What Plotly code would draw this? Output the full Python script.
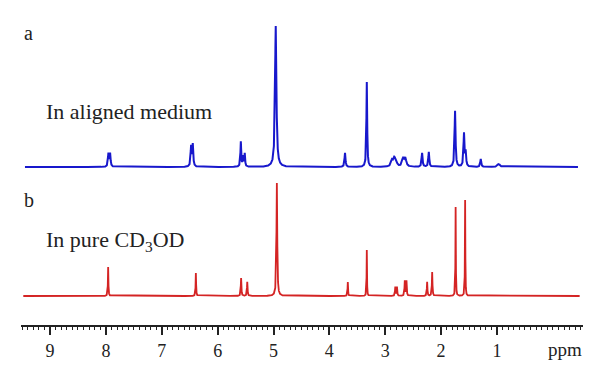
import numpy as np
import plotly.graph_objects as go

# Peak tables (ppm, intensity, half-width in ppm)
blue_ppm    = [7.955, 7.925, 6.475, 6.445, 5.585, 5.545, 5.515, 4.96, 3.72, 3.33, 2.88, 2.84, 2.81, 2.68, 2.64, 2.34, 2.22, 1.75, 1.59, 1.56, 1.29, 0.97]
blue_height = [13, 13, 20, 22, 25, 10, 13, 141, 14, 85, 6, 7, 6, 8, 8, 14, 15, 56, 33, 14, 8, 3]
blue_width  = [0.010, 0.010, 0.010, 0.010, 0.008, 0.008, 0.008, 0.014, 0.010, 0.008, 0.020, 0.020, 0.020, 0.020, 0.020, 0.010, 0.010, 0.010, 0.010, 0.010, 0.010, 0.025]

red_ppm    = [7.96, 6.39, 5.58, 5.47, 4.94, 3.67, 3.33, 2.82, 2.79, 2.65, 2.62, 2.25, 2.16, 1.74, 1.57]
red_height = [29, 23, 18, 14, 113, 14, 46, 9, 9, 15, 15, 14, 24, 89, 96]
red_width  = [0.005, 0.005, 0.006, 0.006, 0.008, 0.005, 0.004, 0.006, 0.006, 0.006, 0.006, 0.006, 0.006, 0.004, 0.004]

x_ticks = [9, 8, 7, 6, 5, 4, 3, 2, 1]
x_range = [9.52, -0.54]
blue_span = [9.45, -0.45]
red_span = [9.48, -0.48]
blue_offset = 158
red_offset = 29


def spectrum(span, ppm, h, w):
    x = np.arange(span[1], span[0], 0.001)
    y = np.zeros_like(x)
    for p, hh, ww in zip(ppm, h, w):
        y += hh * ww**2 / (ww**2 + (x - p) ** 2)
    return x, y


bx, by = spectrum(blue_span, blue_ppm, blue_height, blue_width)
rx, ry = spectrum(red_span, red_ppm, red_height, red_width)

fig = go.Figure()
fig.add_trace(go.Scatter(x=bx, y=by + blue_offset, mode="lines",
                         line=dict(color="#1818cc", width=2), hoverinfo="skip"))
fig.add_trace(go.Scatter(x=rx, y=ry + red_offset, mode="lines",
                         line=dict(color="#d42424", width=1.8), hoverinfo="skip"))

font = dict(family="Liberation Serif, Times New Roman, serif", color="#222222")
W, H = 600, 377
OFF = 8                      # page body margin
AXIS_Y = 325                 # axis line row in the page
L, R, T = 21 - OFF, 25, 10 - OFF
B = H - (AXIS_Y - OFF)
pw, ph = W - L - R, H - T - B


def px(xp):
    return (xp - OFF - L) / pw


def py(yp):
    return (AXIS_Y - yp) / ph


annotations = [
    dict(text="a", x=px(22), y=py(33), size=20),
    dict(text="In aligned medium", x=px(44), y=py(112), size=22),
    dict(text="b", x=px(22), y=py(200), size=20),
    dict(text="In pure CD<sub>3</sub>OD", x=px(44), y=py(241), size=22),
]
anns = []
for a in annotations:
    anns.append(dict(text=a["text"], x=a["x"], y=a["y"], xref="paper", yref="paper",
                     xanchor="left", yanchor="middle", showarrow=False,
                     font=dict(size=a["size"], **font)))
anns.append(dict(text="ppm", x=px(565), y=py(349), xref="paper", yref="paper",
                 xanchor="center", yanchor="middle", showarrow=False,
                 font=dict(size=19, **font)))

fig.update_layout(
    width=W, height=H,
    margin=dict(l=L, r=R, t=T, b=B),
    paper_bgcolor="white", plot_bgcolor="white",
    showlegend=False,
    annotations=anns,
    xaxis=dict(range=x_range, tickvals=x_ticks, ticktext=[str(t) for t in x_ticks],
               showline=True, linecolor="#222222", linewidth=2,
               ticks="outside", ticklen=8, tickwidth=1.5, tickcolor="#222222",
               showgrid=False, zeroline=False,
               tickfont=dict(size=18, **font),
               minor=dict(dtick=0.1, tick0=0, ticks="outside", ticklen=3,
                          tickwidth=1, tickcolor="#222222", showgrid=False)),
    yaxis=dict(range=[0, ph], visible=False, showgrid=False, zeroline=False),
)

fig.write_html("out.html")
